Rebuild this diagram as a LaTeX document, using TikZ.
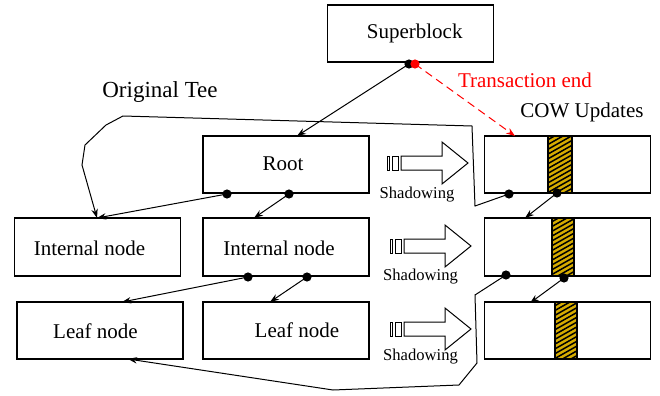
\documentclass[tikz,border=0pt]{standalone}
\usepackage{fontspec}
\setmainfont{Liberation Serif}
\usetikzlibrary{arrows.meta}
\definecolor{gold}{RGB}{214,172,0}
\definecolor{tred}{RGB}{255,0,0}
\tikzset{
  box/.style={draw,line width=0.6pt,minimum width=#1,minimum height=28.5pt,inner sep=0pt},
  box/.default=83pt,
  lbl/.style={font=\fontsize{10.5}{12}\selectfont,inner sep=0pt},
  small/.style={font=\fontsize{8.3}{10}\selectfont,inner sep=0pt},
  conn/.style={line width=0.5pt,-{Stealth[length=4.5pt,width=3.2pt]}},
  dot/.style={fill=black},
  shad/.style={draw,line width=0.5pt,fill=white},
}
\newcommand{\stripe}[4]{%
  \fill[gold] (#1,#2) rectangle (#3,#4);
  \begin{scope}
    \clip (#1,#2) rectangle (#3,#4);
    \foreach \k in {0,...,16}{\draw[line width=0.75pt] (#1-2,#2+\k*4.8) -- ++(30,-17);}
  \end{scope}
  \draw[line width=0.6pt] (#1,#2) rectangle (#3,#4);}
\begin{document}
\begin{tikzpicture}[x=0.5pt,y=-0.5pt]
\useasboundingbox (0,0) rectangle (660,396);
% boxes
\node[box] (sb) at (410.5,33.5) {};
\node[box] (root) at (286,164.5) {};
\node[box,minimum height=29pt] (int1) at (97.5,247) {};
\node[box,minimum height=29pt] (int2) at (286,247) {};
\node[box] (leaf1) at (100,330.5) {};
\node[box] (leaf2) at (286,330.5) {};
% stripes + right boxes
\stripe{548}{136}{572}{193}
\stripe{552}{218}{574}{276}
\stripe{555}{302}{577}{359}
\node[box] (r1) at (567.5,164.5) {};
\node[box,minimum height=29pt] (r2) at (567.5,247) {};
\node[box] (r3) at (567.5,330.5) {};
% texts
\node[lbl] (tsb) at (414.7,33.5) {Superblock};
\node[lbl] (troot) at (283,164) {Root};
\node[lbl] (tint1) at (89.5,248) {Internal node};
\node[lbl] (tint2) at (279,248) {Internal node};
\node[lbl] (tleaf1) at (95.5,331) {Leaf node};
\node[lbl] (tleaf2) at (297,330) {Leaf node};
\node[lbl,font=\fontsize{11.5}{13}\selectfont] (torig) at (160,92) {Original Tee};
\node[lbl] (tcow) at (582,112) {COW Updates};
\node[lbl,text=tred] (ttrans) at (525,80) {Transaction end};
% shadowing arrows
\foreach \dx/\dy/\tx/\ty [count=\i] in {0/0/417/195, 3/83/420.5/277, 3/166/420.5/357}{
  \begin{scope}[shift={(\dx,\dy)}]
    \draw[shad] (401,156) -- (442,156) -- (442,142) -- (468,163) -- (442,184) -- (442,170) -- (401,170) -- cycle;
    \draw[shad] (387,156) rectangle (389.5,170);
    \draw[shad] (392,156) rectangle (398,170);
  \end{scope}
  \node[small] (shad\i) at (\tx,\ty) {Shadowing};
}
% anchor coordinates
\coordinate (sbB) at (409,64);
\coordinate (sbR) at (415,64);
\coordinate (rootT) at (297,136);
\coordinate (rootA) at (227,194);
\coordinate (rootB) at (289,194);
\coordinate (int1T) at (97,218);
\coordinate (int2T) at (254,218);
\coordinate (int2A) at (248,277);
\coordinate (int2B) at (307,277);
\coordinate (leaf1T) at (122,302);
\coordinate (leaf2T) at (270,302);
\coordinate (leaf1B) at (128,359);
\coordinate (r1T) at (515,136);
\coordinate (r1A) at (509,194);
\coordinate (r1B) at (557,193);
\coordinate (r2T) at (525,218);
\coordinate (r2A) at (506,275);
\coordinate (r2B) at (564,278);
\coordinate (r3T) at (530,303);
% connectors
\draw[conn] (sbB) -- (rootT);
\draw[conn,tred,dash pattern=on 4pt off 2.5pt] (sbR) -- (r1T);
\draw[conn] (rootA) -- (int1T);
\draw[conn] (rootB) -- (int2T);
\draw[conn] (int2A) -- (leaf1T);
\draw[conn] (int2B) -- (leaf2T);
\draw[conn] (r1B) -- (r2T);
\draw[conn] (r2B) -- (r3T);
\draw[conn] (r1A) -- (475,206) -- (472,126) -- (123,116) -- (106,125) -- (85,145) -- (82,165) -- (int1T);
\draw[conn] (r2A) -- (475,295) -- (477,363) -- (459,385) -- (333,390) -- (leaf1B);
% dots
\foreach \p in {sbB,rootA,rootB,int2A,int2B,r1A,r1B,r2A,r2B}{\fill[dot] (\p) circle (2.3pt);}
\fill[tred] (sbR) circle (2.3pt);
\end{tikzpicture}
\end{document}
